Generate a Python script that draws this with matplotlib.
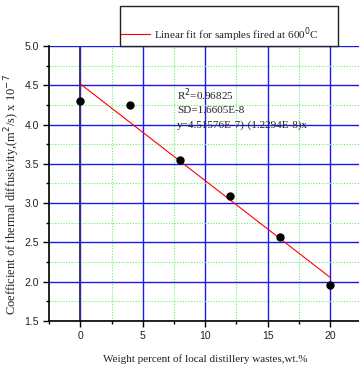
import matplotlib
matplotlib.use("Agg")
import matplotlib.pyplot as plt
import numpy as np
from matplotlib.patches import Rectangle
from matplotlib.ticker import MultipleLocator

wt = [0, 4, 8, 12, 16, 20]
diff = [4.30, 4.25, 3.55, 3.09, 2.57, 1.96]
intercept = 4.51576
slope = -0.12294
fit_x = [0, 20]
fit_label = "Linear fit for samples fired at 600$^0$C"
stats = ["R$^2$=0.96825", "SD=1.6605E-8", "y=4.51576E-7)-(1.2294E-8)x"]

W, H = 359, 367
fig = plt.figure(figsize=(W/100, H/100), dpi=100)
ax = fig.add_axes([49.3/W, (H-321)/H, (W-49.3)/W, 275/H])
ax.set_xlim(-2.5, 22.33)
ax.set_ylim(1.5, 5.0)

ax.xaxis.set_major_locator(MultipleLocator(5))
ax.xaxis.set_minor_locator(MultipleLocator(2.5))
ax.yaxis.set_major_locator(MultipleLocator(0.5))
ax.yaxis.set_minor_locator(MultipleLocator(0.25))
ax.grid(which='major', color='#1a1ae6', lw=1.0)
ax.grid(which='minor', color='#66ee66', lw=0.8, ls=(0, (1, 1.5)))
ax.axvline(0, color='#33337a', lw=1.4, zorder=1.5)
ax.set_axisbelow(True)

for s in ['top', 'right']:
    ax.spines[s].set_visible(False)
for s in ['left', 'bottom']:
    ax.spines[s].set_linewidth(1.2)
    ax.spines[s].set_color('black')

ax.tick_params(which='major', direction='out', length=4, width=1, labelsize=7.5,
               colors='black', labelcolor='#222222')
ax.tick_params(which='minor', direction='out', length=2.5, width=1)
for lab in ax.get_xticklabels() + ax.get_yticklabels():
    lab.set_family('Liberation Sans')
ax.xaxis.set_major_formatter(matplotlib.ticker.FormatStrFormatter('%d'))
ax.yaxis.set_major_formatter(matplotlib.ticker.FormatStrFormatter('%.1f'))

fx = np.array(fit_x, dtype=float)
line, = ax.plot(fx, intercept + slope*fx, color='red', lw=0.8, zorder=3)
ax.plot(wt, diff, 'o', color='black', ms=5, zorder=4)

serif = 'Liberation Serif'
for i, t in enumerate(stats):
    ax.text(0.412, 0.822 - i*0.055, t, transform=ax.transAxes, fontsize=8,
            family=serif, color='#222222', va='center', ha='left')

ax.set_xlabel("Weight percent of local distillery wastes,wt.%", family=serif,
              fontsize=8, color='#222222')
ax.set_ylabel("Coefficient of thermal diffusivity,(m$^2$/s) x 10$^{-7}$",
              family=serif, fontsize=9, color='#222222')
ax.xaxis.set_label_coords((205-49.3)/(W-49.3), -(354-321)/275)
ax.yaxis.set_label_coords((22-49.3)/(W-49.3), (321-194)/275)

# legend box
x0 = (120.3-49.3)/(W-49.3); x1 = (338.3-49.3)/(W-49.3)
y1 = (321-5.7)/275
rect = Rectangle((x0, 1.0), x1-x0, y1-1.0, transform=ax.transAxes,
                 fill=False, edgecolor='#222222', lw=1.0, clip_on=False)
ax.add_patch(rect)
leg = ax.legend([line], [fit_label], loc='center left', frameon=False,
                bbox_to_anchor=(x0-0.012, (321-34.3)/275), prop={'family': serif, 'size': 8},
                handlelength=2.6, handletextpad=0.4, borderaxespad=0)
for t in leg.get_texts():
    t.set_color('#222222')

fig.savefig("out.png", dpi=100)
